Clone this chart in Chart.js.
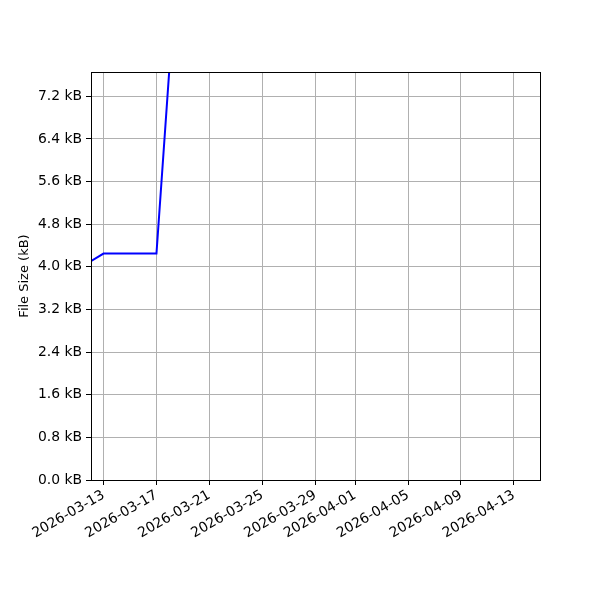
<!DOCTYPE html>
<html>
<head>
<meta charset="utf-8">
<script src="https://cdn.jsdelivr.net/npm/chart.js@4/dist/chart.umd.min.js"></script>
<style>
html,body{margin:0;padding:0;background:#fff;}
#wrap{width:600px;height:600px;}
</style>
</head>
<body>
<div id="wrap"><canvas id="c" width="600" height="600"></canvas></div>
<script>
// Data
const dates = ['2026-03-12T00:00', '2026-03-13T00:00', '2026-03-17T00:00', '2026-03-18T00:00'];
const sizesKB = [4.10, 4.25, 4.25, 7.80];
const xTickDates = ['2026-03-13', '2026-03-17', '2026-03-21', '2026-03-25', '2026-03-29', '2026-04-01', '2026-04-05', '2026-04-09', '2026-04-13'];
const yTicks = [0, 0.8, 1.6, 2.4, 3.2, 4.0, 4.8, 5.6, 6.4, 7.2];
const xRange = ['2026-03-12T01:20', '2026-04-14T23:15'];
const yRange = [0, 7.657];
const yTitle = 'File Size (kB)';

const ms = s => Date.parse(s + (s.length > 10 ? ':00Z' : 'T00:00:00Z'));
const pts = dates.map((d, i) => ({x: ms(d), y: sizesKB[i]}));
const fmt = v => { const d = new Date(v); return d.toISOString().slice(0, 10); };

const FONT = {family: 'DejaVu Sans', size: 13.9};

const frame = {
  id: 'frame',
  afterDraw(chart) {
    const a = chart.chartArea, ctx = chart.ctx;
    ctx.save();
    ctx.strokeStyle = '#000';
    ctx.lineWidth = 1;
    ctx.strokeRect(Math.round(a.left) + 0.5, Math.round(a.top) + 0.5, Math.round(a.right - a.left), Math.round(a.bottom - a.top));
    ctx.restore();
  }
};

new Chart(document.getElementById('c'), {
  type: 'line',
  data: {datasets: [{data: pts, borderColor: '#0000ff', borderWidth: 2, pointRadius: 0, tension: 0, fill: false}]},
  options: {
    responsive: false,
    animation: false,
    devicePixelRatio: 1,
    layout: {padding: {top: 72, right: 60, left: 0, bottom: 0}},
    plugins: {legend: {display: false}, tooltip: {enabled: false}},
    scales: {
      x: {
        type: 'linear',
        min: ms(xRange[0]), max: ms(xRange[1]),
        afterBuildTicks: s => { s.ticks = xTickDates.map(d => ({value: ms(d)})); },
        afterFit: s => { s.height = 120; },
        ticks: {callback: v => fmt(v), maxRotation: 30, minRotation: 30, autoSkip: false, font: FONT, color: '#000', padding: 2},
        grid: {color: '#b0b0b0', lineWidth: 1, tickColor: '#000', tickLength: 5, drawTicks: true},
        border: {color: '#000', width: 1}
      },
      y: {
        type: 'linear',
        min: yRange[0], max: yRange[1],
        afterBuildTicks: s => { s.ticks = yTicks.map(v => ({value: v})); },
        afterFit: s => { s.width = 91; },
        ticks: {callback: v => v.toFixed(1) + ' kB', font: FONT, color: '#000', padding: 4},
        grid: {color: '#b0b0b0', lineWidth: 1, tickColor: '#000', tickLength: 5, drawTicks: true},
        border: {color: '#000', width: 1},
        title: {display: true, text: yTitle, font: {family: 'DejaVu Sans', size: 13}, color: '#000', padding: {top: 17, bottom: 0}}
      }
    }
  },
  plugins: [frame]
});
</script>
</body>
</html>
